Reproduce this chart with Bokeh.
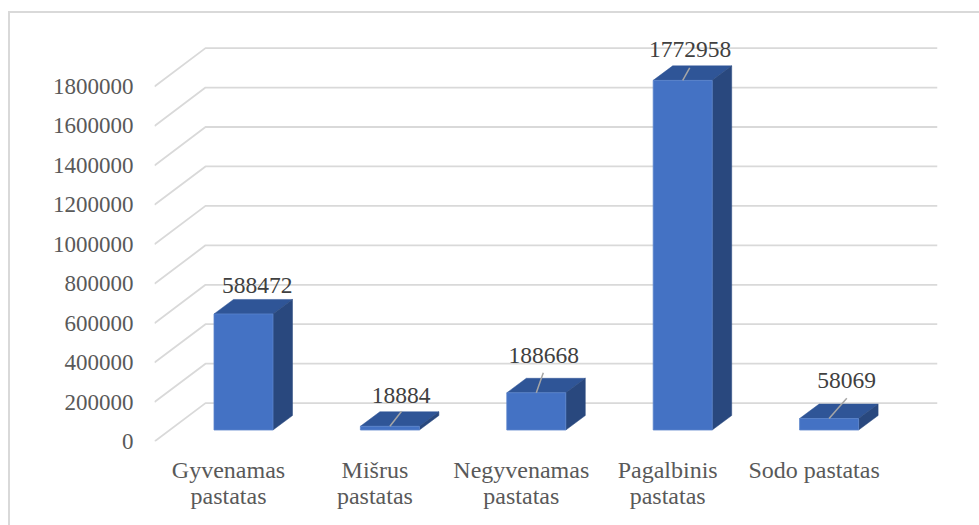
from bokeh.plotting import figure
from bokeh.models import Range1d, FixedTicker
from bokeh.core.properties import value
from bokeh.embed import file_html
from bokeh.resources import INLINE

categories = ["Gyvenamas\npastatas", "Mišrus\npastatas", "Negyvenamas\npastatas", "Pagalbinis\npastatas", "Sodo pastatas"]
values = [588472, 18884, 188668, 1772958, 58069]
y_ticks = [0, 200000, 400000, 600000, 800000, 1000000, 1200000, 1400000, 1600000, 1800000]

W, H = 979, 525
FL, FR, FT, FB = 154, 42, 20, 84       # frame margins inside the figure
FW, FH = W - FL - FR, H - FT - FB
PX_X = 146.4                            # pixels per category
PX_Y = 39.44 / 200000                   # pixels per value unit
ux = lambda px: px / PX_X
uy = lambda px: px / PX_Y

x0 = -(228 - 154) / PX_X
p = figure(width=W, height=H, output_backend="svg", toolbar_location=None,
           x_range=Range1d(x0, x0 + FW / PX_X), y_range=Range1d(0, FH / PX_Y),
           min_border_left=FL, min_border_right=FR, min_border_top=FT, min_border_bottom=FB,
           background_fill_color=None, border_fill_color=None)
p.outline_line_color = None
p.grid.visible = False

# chart frame, continuing past the picture on the right and at the bottom
p.styles = {
    "background-image": "linear-gradient(#d9d9d9,#d9d9d9),linear-gradient(#d9d9d9,#d9d9d9)",
    "background-size": "2px 100%,100% 2px",
    "background-position": "8px 11px,8px 11px",
    "background-repeat": "no-repeat",
}

FONT = "Liberation Serif"
for ax in (p.xaxis[0], p.yaxis[0]):
    ax.axis_line_color = None
    ax.major_tick_line_color = None
    ax.minor_tick_line_color = None
    ax.major_label_text_font = FONT
    ax.major_label_text_color = "#595959"
p.xaxis[0].major_label_text_font_size = "24px"
p.xaxis[0].major_label_text_line_height = 1.03
p.yaxis[0].major_label_text_font_size = "23px"
p.yaxis[0].ticker = FixedTicker(ticks=y_ticks)
p.yaxis[0].major_label_overrides = {t: str(t) for t in y_ticks}
p.yaxis[0].major_label_standoff = 15
p.xaxis[0].ticker = FixedTicker(ticks=list(range(len(categories))))
p.xaxis[0].major_label_overrides = {i: c for i, c in enumerate(categories)}
p.xaxis[0].major_label_standoff = 9

# walls
wall_dx, wall_dy = ux(51), uy(38.4)
end_x = x0 + ux(937 - 154)
p.multi_line(xs=[[x0, x0 + wall_dx, end_x] for _ in y_ticks],
             ys=[[t, t + wall_dy, t + wall_dy] for t in y_ticks],
             line_color="#d9d9d9", line_width=1.8)

# 3-D columns
bar_w = ux(59)
dx, dy = ux(19.5), uy(14.5)
lift = uy(11.5)
shift = ux(15)
lefts = [i + shift - bar_w / 2 for i in range(len(values))]
rights = [l + bar_w for l in lefts]
bots = [lift] * len(values)
tops = [lift + v for v in values]

p.patches(xs=[[l, r, r + dx, l + dx] for l, r in zip(lefts, rights)],
          ys=[[t, t, t + dy, t + dy] for t in tops],
          fill_color="#2F5597", line_color="#2F5597", line_width=0.5)
p.patches(xs=[[r, r + dx, r + dx, r] for r in rights],
          ys=[[b, b + dy, t + dy, t] for b, t in zip(bots, tops)],
          fill_color="#29487E", line_color="#29487E", line_width=0.5)
p.quad(left=lefts, right=rights, bottom=bots, top=tops,
       fill_color="#4472C4", line_color="#5B84CC", line_width=0.8)

# leader lines and value labels (offsets in pixels from the front-top centre)
lead = [None, (11.7, 15), (7, 20), (7, 12.6), (17.7, 20.4)]
lab_off = [(13.7, 28), (11.3, 31), (7.5, 37), (7.3, 30.4), (17.5, 38)]
centres = [i + shift for i in range(len(values))]
xs, ys = [], []
for c, t, o in zip(centres, tops, lead):
    if o:
        xs.append([c, c + ux(o[0])])
        ys.append([t, t + uy(o[1])])
p.multi_line(xs=xs, ys=ys, line_color="#a6a6a6", line_width=1.5)
p.text(x=[c + ux(o[0]) for c, o in zip(centres, lab_off)],
       y=[t + uy(o[1]) for t, o in zip(tops, lab_off)],
       text=[str(v) for v in values], text_align="center", text_baseline="middle",
       text_font=value(FONT), text_font_size="23.5px", text_color="#404040")

open("out.html", "w").write(file_html(p, INLINE))
